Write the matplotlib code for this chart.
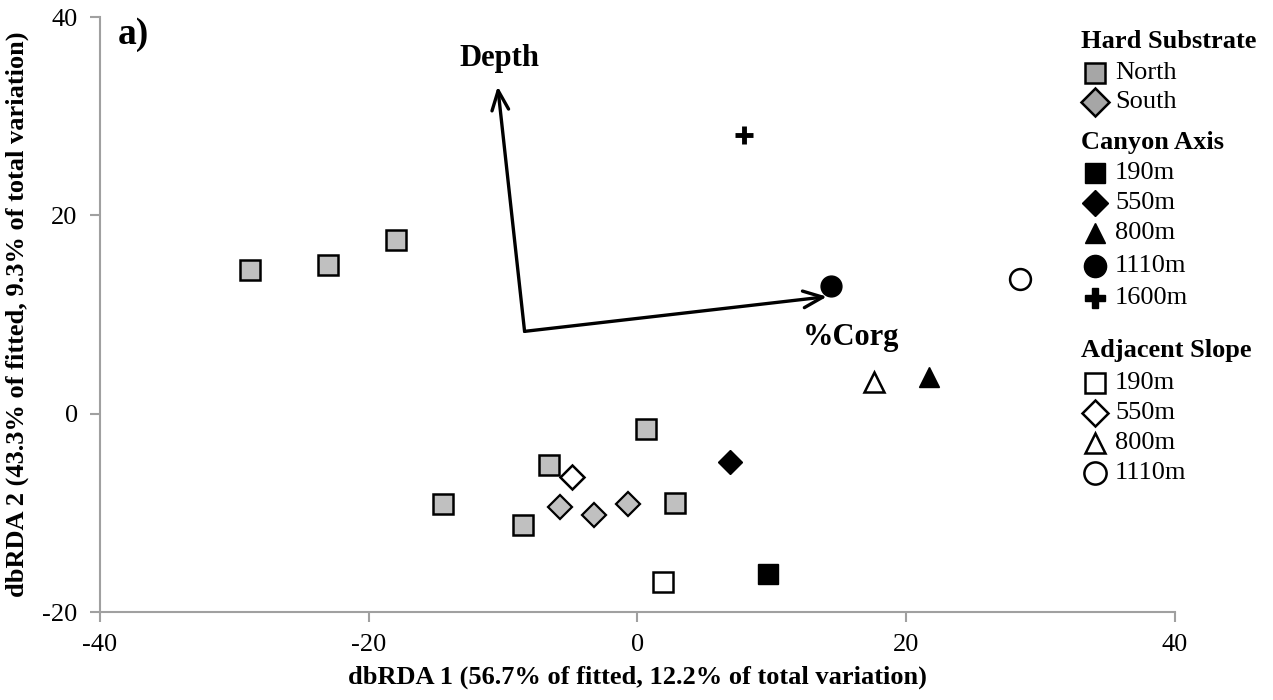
import matplotlib.pyplot as plt

plt.rcParams['font.family'] = ['Liberation Serif', 'DejaVu Serif']
plt.rcParams['axes.unicode_minus'] = False

# hard substrate
north_x = [-28.8, -23.0, -18.0, -14.5, -8.5, -6.6, 0.6, 2.8]
north_y = [14.5, 15.0, 17.5, -9.1, -11.2, -5.2, -1.5, -9.0]
south_x = [-5.8, -3.2, -0.7]
south_y = [-9.4, -10.2, -9.1]

# canyon axis (190m, 550m, 800m, 1110m, 1600m)
canyon_x = [9.7, 6.9, 21.7, 14.4, 7.9]
canyon_y = [-16.2, -4.9, 3.7, 12.9, 28.1]

# adjacent slope (190m, 550m, 800m, 1110m)
slope_x = [1.9, -4.9, 17.6, 28.5]
slope_y = [-17.0, -6.4, 3.2, 13.6]

depths = ['190m', '550m', '800m', '1110m', '1600m']
markers = ['s', 'D', '^', 'o', 'P']
sizes = [14, 12, 14, 15, 13]

# vectors
origin = (-8.4, 8.3)
vec_names = ['Depth', '%Corg']
vec_tip_x = [-10.4, 14.1]
vec_tip_y = [33.0, 11.8]
vec_lab_x = [-10.3, 15.9]
vec_lab_y = [35.8, 7.7]

fig = plt.figure(figsize=(12.73, 7.0), dpi=100)
ax = fig.add_axes([0.0785, 0.1257, 0.8445, 0.85])

gray = '#c0c0c0'
ax.plot(north_x, north_y, 's', ms=14, mfc=gray, mec='black', mew=1.8, ls='none')
ax.plot(south_x, south_y, 'D', ms=12, mfc=gray, mec='black', mew=1.6, ls='none')
for i in range(len(canyon_x)):
    if markers[i] == 'P':
        # plus in the plot is drawn with thick strokes
        ax.plot(canyon_x[i], canyon_y[i], '+', ms=13, mec='black', mew=3.5, ls='none')
    else:
        ax.plot(canyon_x[i], canyon_y[i], markers[i], ms=sizes[i], mfc='black', mec='black',
                mew=1.0, ls='none')
for i in range(len(slope_x)):
    ax.plot(slope_x[i], slope_y[i], markers[i], ms=sizes[i], mfc='white', mec='black',
            mew=1.8, ls='none')

for i in range(len(vec_names)):
    ax.annotate('', xy=(vec_tip_x[i], vec_tip_y[i]), xytext=origin,
                arrowprops=dict(arrowstyle='->,head_length=1.4,head_width=0.6', lw=2.4,
                                color='black', shrinkA=0, shrinkB=0))
    ax.text(vec_lab_x[i], vec_lab_y[i], vec_names[i], ha='center', va='center',
            fontsize=22, fontweight='bold')

ax.text(-38.7, 38.2, 'a)', fontsize=27, fontweight='bold', ha='left', va='center')

ax.set_xlim(-40, 40)
ax.set_ylim(-20, 40)
ax.set_xticks([-40, -20, 0, 20, 40])
ax.set_yticks([-20, 0, 20, 40])
ax.tick_params(labelsize=19, color='#a0a0a0', length=7, width=1.5, direction='out', pad=9)
for s in ['top', 'right']:
    ax.spines[s].set_visible(False)
for s in ['left', 'bottom']:
    ax.spines[s].set_color('#a0a0a0')
    ax.spines[s].set_linewidth(1.5)
ax.set_xlabel('dbRDA 1 (56.7% of fitted, 12.2% of total variation)', fontsize=19,
              fontweight='bold', labelpad=7)
ax.set_ylabel('dbRDA 2 (43.3% of fitted, 9.3% of total variation)', fontsize=19,
              fontweight='bold', labelpad=10)

# legend drawn by hand
lg = fig.add_axes([0, 0, 1, 1], facecolor='none')
lg.set_xlim(0, 1273)
lg.set_ylim(700, 0)
lg.axis('off')
mx = 1095
tx = 1115
fs = 19
lg.text(1081, 42, 'Hard Substrate', fontsize=fs, fontweight='bold', va='center')
lg.plot(mx, 73, 's', ms=14, mfc='#a6a6a6', mec='black', mew=1.8)
lg.text(tx, 73, 'North', fontsize=fs, va='center')
lg.plot(mx, 102, 'D', ms=14, mfc='#a6a6a6', mec='black', mew=1.8)
lg.text(tx, 102, 'South', fontsize=fs, va='center')

lg.text(1081, 142, 'Canyon Axis', fontsize=fs, fontweight='bold', va='center')
cy = [173, 203, 233, 266, 298]
for i in range(5):
    lg.plot(mx, cy[i], markers[i], ms=sizes[i] + 1, mfc='black', mec='black', mew=1.0)
    lg.text(tx, cy[i], depths[i], fontsize=fs, va='center')

lg.text(1081, 350, 'Adjacent Slope', fontsize=fs, fontweight='bold', va='center')
sy = [383, 413, 443, 473]
for i in range(4):
    lg.plot(mx, sy[i], markers[i], ms=sizes[i] + 1, mfc='white', mec='black', mew=1.8)
    lg.text(tx, sy[i], depths[i], fontsize=fs, va='center')

fig.savefig('out.png', dpi=100)
